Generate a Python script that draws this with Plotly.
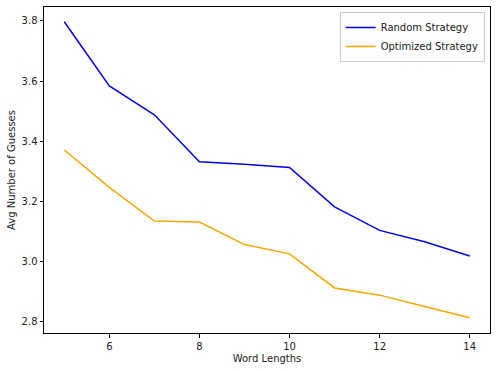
import plotly.graph_objects as go

word_lengths = [5, 6, 7, 8, 9, 10, 11, 12, 13, 14]
random_strategy = [3.797, 3.584, 3.488, 3.332, 3.324, 3.313, 3.182, 3.104, 3.066, 3.019]
optimized_strategy = [3.371, 3.247, 3.135, 3.132, 3.057, 3.026, 2.913, 2.889, 2.851, 2.814]
x_ticks = [6, 8, 10, 12, 14]
y_ticks = [2.8, 3.0, 3.2, 3.4, 3.6, 3.8]

fig = go.Figure()
fig.add_trace(go.Scatter(x=word_lengths, y=random_strategy, mode="lines",
                         name="Random Strategy", line=dict(color="blue", width=1.5)))
fig.add_trace(go.Scatter(x=word_lengths, y=optimized_strategy, mode="lines",
                         name="Optimized Strategy", line=dict(color="orange", width=1.5)))

axis_common = dict(showgrid=False, zeroline=False, showline=True, linecolor="black",
                   linewidth=1, mirror=True, ticks="outside", ticklen=3.5,
                   tickcolor="black", tickwidth=1, automargin=False,
                   tickfont=dict(family="DejaVu Sans", size=10, color="#222222"))

fig.update_layout(
    width=497, height=371,
    margin=dict(l=44, r=7, t=7, b=38),
    paper_bgcolor="white", plot_bgcolor="white",
    font=dict(family="DejaVu Sans", size=10, color="#222222"),
    xaxis=dict(range=[4.55, 14.45], tickvals=x_ticks, ticktext=[str(v) for v in x_ticks],
               title=dict(text="Word Lengths", font=dict(size=10), standoff=4), **axis_common),
    yaxis=dict(range=[2.7633, 3.8458], tickvals=y_ticks, ticktext=[f"{v:.1f}" for v in y_ticks],
               title=dict(text="Avg Number of Guesses", font=dict(size=10), standoff=4), **axis_common),
    legend=dict(x=0.988, y=0.985, xanchor="right", yanchor="top",
                bgcolor="rgba(255,255,255,0.8)", bordercolor="#cccccc", borderwidth=1,
                font=dict(size=10), itemwidth=30, tracegroupgap=0),
    showlegend=True,
)

fig.write_html("out.html", config={"displayModeBar": False},
               post_script="document.body.style.margin='0';")
